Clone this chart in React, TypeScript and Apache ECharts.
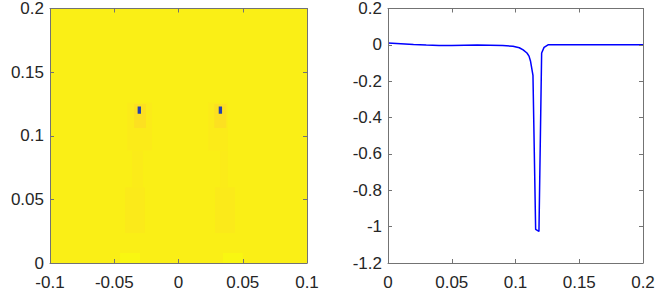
import React, { useEffect, useRef } from "react";
import * as echarts from "echarts";

// Left panel: field cells [x0, x1, y0, y1, value]
const fieldCells: number[][] = [
  [-0.1, 0.1, 0, 0.2, 0],
  // left plume
  [-0.04, -0.0206, 0.0885, 0.126, -0.012],
  [-0.0362, -0.0276, 0.0595, 0.0885, -0.012],
  [-0.0416, -0.0261, 0.0235, 0.0595, -0.014],
  [-0.0455, -0.03, 0, 0.0078, 0.02],
  [-0.0346, -0.0253, 0.106, 0.125, -0.04],
  // right plume
  [0.023, 0.0385, 0.0885, 0.126, -0.012],
  [0.0323, 0.0385, 0.0595, 0.0885, -0.012],
  [0.0284, 0.044, 0.0235, 0.0595, -0.014],
  [0.0346, 0.05, 0, 0.0078, 0.02],
  [0.0278, 0.0372, 0.106, 0.125, -0.04],
  // vortex cores
  [-0.0318, -0.0292, 0.1172, 0.1229, -0.97],
  [0.0313, 0.0339, 0.1172, 0.1229, -0.97],
];

const xTicksLeft = { min: -0.1, max: 0.1, interval: 0.05 };
const yTicksLeft = { min: 0, max: 0.2, interval: 0.05 };
const xTicksRight = { min: 0, max: 0.2, interval: 0.05 };
const yTicksRight = { min: -1.2, max: 0.2, interval: 0.2 };

const profileX = [
  0, 0.01, 0.02, 0.03, 0.04, 0.05, 0.06, 0.07, 0.08, 0.09, 0.098, 0.103, 0.106,
  0.109, 0.1106, 0.1117, 0.1137, 0.1158, 0.1184, 0.1205, 0.1224, 0.1255, 0.15,
  0.2,
];
const profileY = [
  0.01, 0.006, 0.002, -0.001, -0.003, -0.003, -0.002, -0.001, -0.002, -0.004,
  -0.008, -0.016, -0.028, -0.045, -0.062, -0.087, -0.168, -1.015, -1.026,
  -0.045, -0.014, 0, 0, 0,
];

const parula = [
  "#352A87",
  "#0F5CDD",
  "#1481D6",
  "#06A4CA",
  "#2EB7A4",
  "#87BF77",
  "#D1BB59",
  "#FEC832",
  "#F9FB0E",
];

const axisColor = "#737373";
const textColor = "#262626";
const fontFamily = "'Liberation Sans', Arial, Helvetica, sans-serif";
const fontSize = 17;

function mkX(gridIndex: number, t: any, show: boolean, position: string) {
  return {
    type: "value",
    gridIndex,
    position,
    min: t.min,
    max: t.max,
    interval: t.interval,
    axisLine: { show: true, onZero: false, lineStyle: { color: axisColor, width: 1 } },
    axisTick: { show: true, inside: true, length: 4, lineStyle: { color: axisColor } },
    axisLabel: {
      show,
      color: textColor,
      fontSize,
      fontFamily,
      margin: 11,
      showMinLabel: true,
      showMaxLabel: true,
      hideOverlap: false,
    },
    splitLine: { show: false },
    z: 5,
  };
}
function mkY(gridIndex: number, t: any, show: boolean, position: string) {
  return {
    type: "value",
    gridIndex,
    position,
    min: t.min,
    max: t.max,
    interval: t.interval,
    axisLine: { show: true, onZero: false, lineStyle: { color: axisColor, width: 1 } },
    axisTick: { show: true, inside: true, length: 4, lineStyle: { color: axisColor } },
    axisLabel: {
      show,
      color: textColor,
      fontSize,
      fontFamily,
      margin: 6,
      showMinLabel: true,
      showMaxLabel: true,
    },
    splitLine: { show: false },
    z: 5,
  };
}

export default function App() {
  const ref = useRef<HTMLDivElement>(null);
  useEffect(() => {
    if (!ref.current) return;
    const chart = echarts.init(ref.current, undefined, { renderer: "svg" });
    chart.setOption({
      animation: false,
      backgroundColor: "#ffffff",
      grid: [
        { left: 50, top: 7.5, width: 257, height: 255.5 },
        { left: 388, top: 7.5, width: 255, height: 255.5 },
      ],
      xAxis: [
        mkX(0, xTicksLeft, true, "bottom"),
        mkX(0, xTicksLeft, false, "top"),
        mkX(1, xTicksRight, true, "bottom"),
        mkX(1, xTicksRight, false, "top"),
      ],
      yAxis: [
        mkY(0, yTicksLeft, true, "left"),
        mkY(0, yTicksLeft, false, "right"),
        mkY(1, yTicksRight, true, "left"),
        mkY(1, yTicksRight, false, "right"),
      ],
      visualMap: {
        show: false,
        type: "continuous",
        seriesIndex: 0,
        dimension: 4,
        min: -1.03,
        max: 0.03,
        inRange: { color: parula },
      },
      series: [
        {
          type: "custom",
          xAxisIndex: 0,
          yAxisIndex: 0,
          clip: true,
          encode: { x: [0, 1], y: [2, 3] },
          data: fieldCells,
          renderItem: (params: any, api: any) => {
            const p0 = api.coord([api.value(0), api.value(3)]);
            const p1 = api.coord([api.value(1), api.value(2)]);
            return {
              type: "rect",
              shape: {
                x: p0[0],
                y: p0[1],
                width: p1[0] - p0[0],
                height: p1[1] - p0[1],
              },
              style: { fill: api.visual("color") },
            };
          },
        },
        {
          type: "line",
          xAxisIndex: 2,
          yAxisIndex: 2,
          showSymbol: false,
          symbol: "none",
          lineStyle: { color: "#0000FF", width: 1.5 },
          data: profileX.map((x, i) => [x, profileY[i]]),
        },
      ],
    });
    return () => chart.dispose();
  }, []);
  return (
    <div
      ref={ref}
      style={{ position: "fixed", left: 0, top: 0, width: 664, height: 294 }}
    />
  );
}
